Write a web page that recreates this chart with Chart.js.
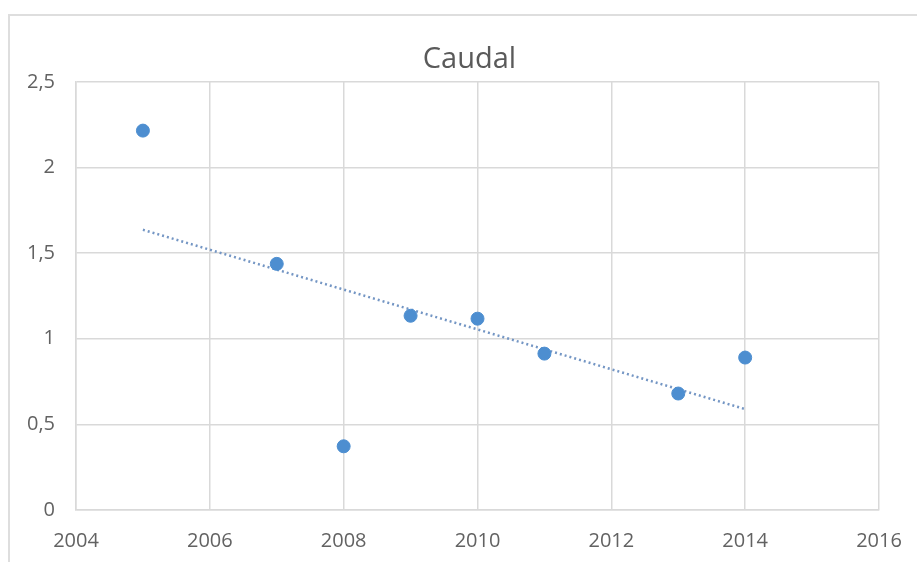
<!DOCTYPE html>
<html>
<head>
<meta charset="utf-8">
<script src="https://cdn.jsdelivr.net/npm/chart.js@4/dist/chart.umd.min.js"></script>
<style>
  html, body { margin: 0; padding: 0; background: #fff; }
  #wrap { position: relative; width: 917px; height: 562px; overflow: hidden; }
  #frame { position: absolute; left: 8px; top: 14px; width: 1200px; height: 1200px;
           border-left: 2px solid #dedede; border-top: 2px solid #dedede; }
  #chart { position: absolute; left: 0; top: 0; }
</style>
</head>
<body>
<div id="wrap">
  <div id="frame"></div>
  <canvas id="chart" width="917" height="562"></canvas>
</div>
<script>
// datos
const years = [2005, 2007, 2008, 2009, 2010, 2011, 2013, 2014];
const caudal = [2.215, 1.437, 0.372, 1.134, 1.117, 0.913, 0.68, 0.89];
const trendYears = [2005, 2014];
const trendValues = [1.636, 0.589];
const yTickLabels = ["0", "0,5", "1", "1,5", "2", "2,5"];

const textColor = "#626262";
const gridColor = "#d9d9d9";
const font = "'Open Sans', 'DejaVu Sans', sans-serif";

// el titulo va centrado sobre el area del grafico, no sobre todo el canvas
const centerTitle = {
  id: "centerTitle",
  afterLayout(chart) {
    const t = chart.titleBlock;
    const area = chart.chartArea;
    if (t) {
      const half = (t.right - t.left) / 2;
      const mid = (area.left + area.right) / 2 - 8;
      t.left = mid - half;
      t.right = mid + half;
    }
  },
};

const ctx = document.getElementById("chart").getContext("2d");
new Chart(ctx, {
  type: "scatter",
  data: {
    datasets: [
      {
        label: "Caudal",
        data: years.map((y, i) => ({ x: y, y: caudal[i] })),
        backgroundColor: "#4d8ed0",
        borderColor: "#4d8ed0",
        pointRadius: 6.5,
        pointHoverRadius: 6.5,
        order: 1,
      },
      {
        label: "Tendencia",
        type: "line",
        data: trendYears.map((y, i) => ({ x: y, y: trendValues[i] })),
        borderColor: "#7496c4",
        borderWidth: 2.5,
        borderDash: [2, 3],
        pointRadius: 0,
        fill: false,
        order: 2,
      },
    ],
  },
  plugins: [centerTitle],
  options: {
    responsive: false,
    animation: false,
    layout: { padding: { left: 0, right: 38, top: 0, bottom: 0 } },
    plugins: {
      legend: { display: false },
      tooltip: { enabled: false },
      title: {
        display: true,
        text: "Caudal",
        color: "#5a5a5a",
        font: { family: font, size: 29, weight: "normal" },
        padding: { top: 42, bottom: 5 },
      },
    },
    scales: {
      x: {
        type: "linear",
        min: 2004,
        max: 2016,
        ticks: {
          stepSize: 2,
          color: textColor,
          padding: 19,
          font: { family: font, size: 20 },
          callback: (v) => String(v),
        },
        grid: { color: gridColor, lineWidth: 1.5, drawTicks: false },
        border: { color: gridColor, width: 1.5 },
        afterFit: (scale) => {
          scale.height = 52;
          scale.paddingLeft = 0;
          scale.paddingRight = 0;
        },
      },
      y: {
        min: 0,
        max: 2.5,
        ticks: {
          stepSize: 0.5,
          color: textColor,
          padding: 21,
          font: { family: font, size: 20 },
          callback: (v, i) => yTickLabels[i],
        },
        grid: { color: gridColor, lineWidth: 1.5, drawTicks: false },
        border: { color: gridColor, width: 1.5 },
        afterFit: (scale) => {
          scale.width = 76;
          scale.paddingTop = 0;
          scale.paddingBottom = 0;
        },
      },
    },
  },
});
</script>
</body>
</html>
